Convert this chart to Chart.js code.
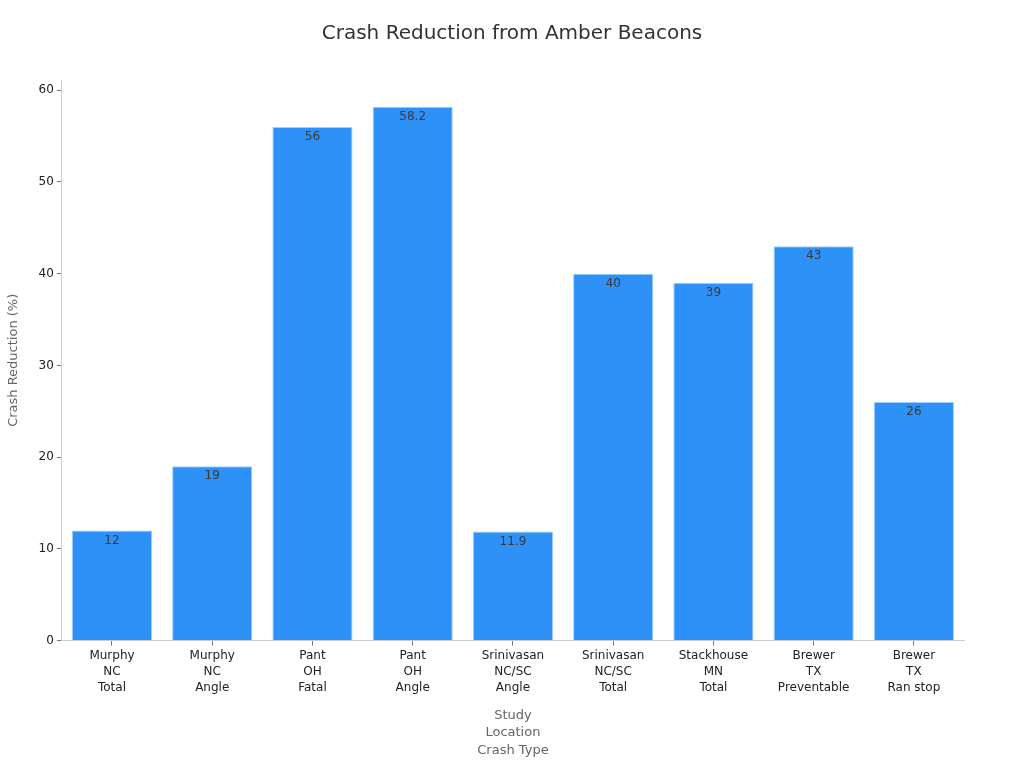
<!DOCTYPE html>
<html>
<head>
<meta charset="utf-8">
<script src="https://cdn.jsdelivr.net/npm/chart.js@4/dist/chart.umd.min.js"></script>
<style>
  html, body { margin: 0; padding: 0; background: #fff; }
  #wrap { width: 1024px; height: 768px; }
</style>
</head>
<body>
<div id="wrap"><canvas id="crashChart" width="1024" height="768"></canvas></div>
<script>
const studies = ['Murphy', 'Murphy', 'Pant', 'Pant', 'Srinivasan', 'Srinivasan', 'Stackhouse', 'Brewer', 'Brewer'];
const locations = ['NC', 'NC', 'OH', 'OH', 'NC/SC', 'NC/SC', 'MN', 'TX', 'TX'];
const crashTypes = ['Total', 'Angle', 'Fatal', 'Angle', 'Angle', 'Total', 'Total', 'Preventable', 'Ran stop'];
const reductions = [12, 19, 56, 58.2, 11.9, 40, 39, 43, 26];
const yTicks = [0, 10, 20, 30, 40, 50, 60];

const labels = studies.map((s, i) => [s, locations[i], crashTypes[i]]);
const chartTitle = 'Crash Reduction from Amber Beacons';

// value labels just under the top of each bar, plus the title centred on the page
const barValues = {
  id: 'barValues',
  afterDatasetsDraw(chart) {
    const ctx = chart.ctx;
    const meta = chart.getDatasetMeta(0);
    ctx.save();
    ctx.font = '12px "DejaVu Sans"';
    ctx.fillStyle = '#3a3a3a';
    ctx.textAlign = 'center';
    ctx.textBaseline = 'middle';
    meta.data.forEach((bar, i) => {
      ctx.fillText(String(chart.data.datasets[0].data[i]), bar.x, bar.y + 10);
    });
    ctx.font = '20px "DejaVu Sans"';
    ctx.fillStyle = '#333333';
    ctx.fillText(chartTitle, chart.width / 2, 34);
    ctx.restore();
  }
};

Chart.defaults.font.family = '"DejaVu Sans", sans-serif';

new Chart(document.getElementById('crashChart').getContext('2d'), {
  type: 'bar',
  data: {
    labels: labels,
    datasets: [{
      label: 'Crash Reduction (%)',
      data: reductions,
      backgroundColor: '#2e91f8',
      borderColor: '#9fd0fb',
      borderWidth: 1,
      barPercentage: 0.8,
      categoryPercentage: 1.0
    }]
  },
  options: {
    responsive: false,
    devicePixelRatio: 1,
    animation: false,
    layout: { padding: { left: 6, right: 60, top: 80, bottom: 8 } },
    plugins: {
      legend: { display: false },
      tooltip: { enabled: false },
      title: { display: false }
    },
    scales: {
      x: {
        grid: { display: true, offset: false, drawOnChartArea: false, drawTicks: true, tickLength: 5, color: '#777' },
        border: { color: '#cccccc' },
        ticks: { color: '#222', font: { size: 12, lineHeight: 1.35 }, padding: 2, maxRotation: 0 },
        title: {
          display: true,
          text: ['Study', 'Location', 'Crash Type'],
          color: '#666666',
          font: { size: 13, lineHeight: 1.38 },
          padding: { top: 8, bottom: 0 }
        }
      },
      y: {
        min: 0,
        max: 61.11,
        afterBuildTicks(scale) {
          scale.ticks = yTicks.map(v => ({ value: v }));
        },
        grid: { display: true, drawOnChartArea: false, drawTicks: true, tickLength: 5, color: '#777' },
        border: { color: '#cccccc' },
        ticks: { color: '#222', font: { size: 12 }, padding: 3 },
        title: {
          display: true,
          text: 'Crash Reduction (%)',
          color: '#666666',
          font: { size: 13 },
          padding: { top: 0, bottom: 14 }
        }
      }
    }
  },
  plugins: [barValues]
});
</script>
</body>
</html>
